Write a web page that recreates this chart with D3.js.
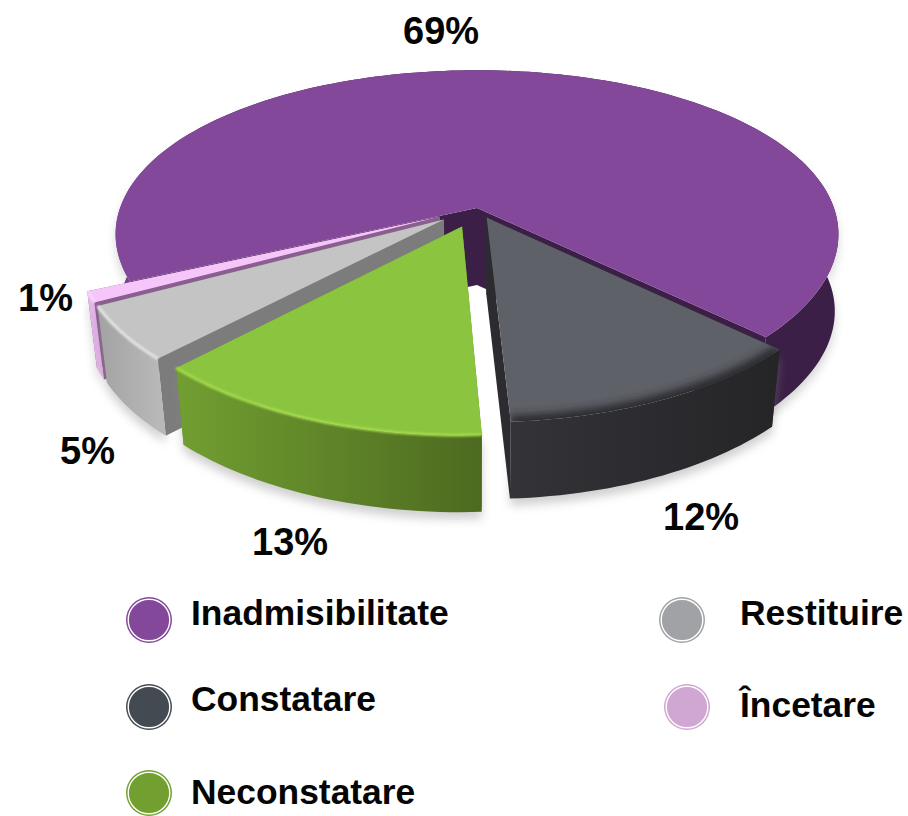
<!DOCTYPE html>
<html>
<head>
<meta charset="utf-8">
<script src="https://cdn.jsdelivr.net/npm/d3@7"></script>
<style>
  html, body { margin: 0; padding: 0; background: #fff; }
  svg { display: block; }
  text { font-family: "Liberation Sans", Arial, sans-serif; font-weight: 700; fill: #050505; }
</style>
</head>
<body>
<div id="chart"></div>
<script>
const categories = ["Inadmisibilitate", "Constatare", "Neconstatare", "Restituire", "Încetare"];
const values = [69, 12, 13, 5, 1];
const explode = [0, 0.064, 0.118, 0.115, 0.115];

const topColors = ["#84489a", "#5f6168", "#8bc53f", "#c4c4c4", "#f6c6fb"];
const legendColors = ["#84489a", "#444a52", "#72a030", "#a0a2a6", "#d0a6d2"];
const edgeColors = ["#3b1f47", "#2b2b30", "#5f8a2a", "#7c7c7c", "#8a5f90"];
const rimColors = [null, "#28282c", "#a8de50", "#ececec", "#fbe0fd"];
const wallStops = [
  ["#7c4392", "#3b1f47"],
  ["#333338", "#252528"],
  ["#719f31", "#4d6a20"],
  ["#a2a2a2", "#b8b8b8"],
  ["#e8b9ec", "#e2b2e6"]
];

// where each label sits on the page
const labelX = [403, 663, 252, 60, 18];
const labelY = [44, 530, 555, 464, 311];
const legendCx = [149, 149, 149, 682, 687];
const legendCy = [620, 707, 793, 620, 707];
const legendTx = [191, 191, 191, 740, 740];
const legendTy = [625, 711, 804, 625, 717];

const WIDTH = 908;
const HEIGHT = 816;

// pie plane -> screen, with a bit of perspective (front is closer)
const cx = 477, cy = 208, F = 357, G = 163, P = 0.183, PX = 0.156;
const DEPTH = 77;
const shrink = [0.99, 0.975, 0.975, 0.975, 0.975];

function project(X, Y, low, i) {
  let sx = F * X / (1 - PX * Y);
  let sy = cy + G * Y / (1 - P * Y);
  if (low) {
    sx *= shrink[i];
    sy += DEPTH;
  }
  return [cx + sx, sy];
}

const svg = d3.select("#chart").append("svg")
  .attr("width", WIDTH)
  .attr("height", HEIGHT);
const defs = svg.append("defs");

defs.append("filter").attr("id", "soft")
  .attr("x", "-20%").attr("y", "-20%").attr("width", "140%").attr("height", "140%")
  .append("feGaussianBlur").attr("stdDeviation", 5);
defs.append("filter").attr("id", "softRim")
  .attr("x", "-20%").attr("y", "-20%").attr("width", "140%").attr("height", "140%")
  .append("feGaussianBlur").attr("stdDeviation", 1.2);
defs.append("filter").attr("id", "softDark")
  .attr("x", "-20%").attr("y", "-20%").attr("width", "140%").attr("height", "140%")
  .append("feGaussianBlur").attr("stdDeviation", 4);

const pie = d3.pie().sort(null)
  .startAngle(-114.6 * Math.PI / 180)
  .endAngle(245.4 * Math.PI / 180);
const line = d3.line();

const slices = pie(values).map((d, i) => {
  const mid = (d.startAngle + d.endAngle) / 2;
  const ox = Math.sin(mid) * explode[i];
  const oy = -Math.cos(mid) * explode[i];
  const steps = Math.max(4, Math.ceil((d.endAngle - d.startAngle) * 40));
  const arcPts = low => d3.range(steps + 1).map(k => {
    const a = d.startAngle + (d.endAngle - d.startAngle) * k / steps;
    return project(ox + Math.sin(a), oy - Math.cos(a), low, i);
  });
  return {
    i: i,
    top: arcPts(false),
    bottom: arcPts(true),
    apex: project(ox, oy, false, i),
    apexLow: project(ox, oy, true, i)
  };
});

// gradients for the outer walls
slices.forEach(s => {
  const xs = s.top.map(p => p[0]);
  const grad = defs.append("linearGradient")
    .attr("id", "wall" + s.i)
    .attr("gradientUnits", "userSpaceOnUse")
    .attr("x1", s.i === 0 ? 116 : d3.min(xs)).attr("y1", 0)
    .attr("x2", s.i === 0 ? 260 : d3.max(xs)).attr("y2", 0);
  grad.append("stop").attr("offset", 0).attr("stop-color", wallStops[s.i][0]);
  grad.append("stop").attr("offset", 1).attr("stop-color", wallStops[s.i][1]);
  defs.append("clipPath").attr("id", "clip" + s.i)
    .append("path").attr("d", line([s.apex, ...s.top]) + "Z");
});

// back to front: purple, pink, gray, green, dark
const order = [0, 4, 3, 2, 1];
const chart = svg.append("g");

order.forEach(i => {
  const s = slices[i];
  const g = chart.append("g");
  const last = s.top.length - 1;

  // soft shadow below the slice
  g.append("path")
    .attr("d", line([...s.top, ...s.bottom.slice().reverse()].map(p => [p[0], p[1] + 7])) + "Z")
    .attr("fill", "#8a8a8a")
    .attr("opacity", i === 0 ? 0.35 : 0.4)
    .attr("filter", "url(#soft)");

  // radial walls
  g.append("path")
    .attr("d", line([s.apex, s.top[0], s.bottom[0], s.apexLow]) + "Z")
    .attr("fill", edgeColors[i]);
  g.append("path")
    .attr("d", line([s.apex, s.top[last], s.bottom[last], s.apexLow]) + "Z")
    .attr("fill", edgeColors[i]);

  // outer wall
  g.append("path")
    .attr("d", line([...s.top, ...s.bottom.slice().reverse()]) + "Z")
    .attr("fill", `url(#wall${i})`);

  // top face
  g.append("path")
    .attr("d", line([s.apex, ...s.top]) + "Z")
    .attr("fill", topColors[i]);

  // bevel along the rim
  if (rimColors[i]) {
    g.append("g").attr("clip-path", i === 1 ? `url(#clip${i})` : null)
      .append("path")
      .attr("d", line(s.top))
      .attr("fill", "none")
      .attr("stroke", rimColors[i])
      .attr("stroke-width", i === 1 ? 12 : 2.5)
      .attr("filter", i === 1 ? "url(#softDark)" : "url(#softRim)");
  }
});

// percentages
svg.append("g").selectAll("text")
  .data(values)
  .join("text")
  .attr("x", (d, i) => labelX[i])
  .attr("y", (d, i) => labelY[i])
  .attr("font-size", 38)
  .text(d => d + "%");

// legend
const legend = svg.append("g").selectAll("g")
  .data(categories)
  .join("g");
legend.append("circle")
  .attr("cx", (d, i) => legendCx[i])
  .attr("cy", (d, i) => legendCy[i])
  .attr("r", 23)
  .attr("fill", (d, i) => legendColors[i]);
legend.append("circle")
  .attr("cx", (d, i) => legendCx[i])
  .attr("cy", (d, i) => legendCy[i])
  .attr("r", 20.8)
  .attr("fill", "none")
  .attr("stroke", "#fff")
  .attr("stroke-width", 1.4);
legend.append("text")
  .attr("x", (d, i) => legendTx[i])
  .attr("y", (d, i) => legendTy[i])
  .attr("font-size", 35.4)
  .text(d => d);
</script>
</body>
</html>
